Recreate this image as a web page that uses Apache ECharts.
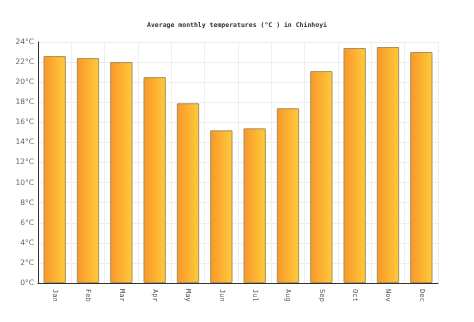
<!DOCTYPE html>
<html><head><meta charset="utf-8">
<script src="https://cdn.jsdelivr.net/npm/echarts@6/dist/echarts.min.js"></script>
<style>html,body{margin:0;padding:0;background:#fff}#c{width:474px;height:322px}</style>
</head><body><div id="c"></div>
<script>
const months = ['Jan','Feb','Mar','Apr','May','Jun','Jul','Aug','Sep','Oct','Nov','Dec'];
const temps = [22.6, 22.4, 22.0, 20.5, 17.9, 15.2, 15.4, 17.4, 21.1, 23.4, 23.5, 23.0];
const titleText = 'Average monthly temperatures (°C ) in Chinhoyi';
const chart = echarts.init(document.getElementById('c'), null, {renderer:'canvas'});
chart.setOption({
  animation:false,
  title:{text:titleText,left:'center',top:17,textStyle:{fontFamily:'DejaVu Sans Mono',fontSize:6.5,fontWeight:'bold',color:'#333'}},
  grid:{left:38,right:36,top:42,bottom:39,containLabel:false},
  xAxis:{type:'category',data:months,
    axisLine:{lineStyle:{color:'#333',width:1}},
    axisTick:{show:false},
    splitLine:{show:true,lineStyle:{color:'#eee'}},
    axisLabel:{rotate:-90,fontSize:7,color:'#555',fontFamily:'DejaVu Sans Mono',margin:6}},
  yAxis:{type:'value',min:0,max:24,interval:2,
    axisLine:{show:true,lineStyle:{color:'#333',width:1}},
    axisTick:{show:false},
    splitLine:{lineStyle:{color:'#eee'}},
    axisLabel:{formatter:'{value}°C',fontSize:7.5,color:'#666',fontFamily:'DejaVu Sans',margin:4}},
  series:[{type:'bar',data:temps,barCategoryGap:'33%',
    itemStyle:{borderColor:'#a89060',borderWidth:1,
      color:new echarts.graphic.LinearGradient(0,0,1,0,[{offset:0,color:'#f9962a'},{offset:1,color:'#ffcb3a'}])}}]
});
</script></body></html>
